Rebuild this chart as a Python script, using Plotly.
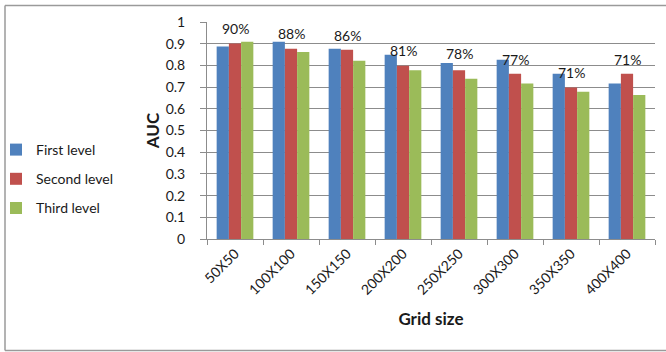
import plotly.graph_objects as go

# AUC per grid size for three levels
grid_sizes = ["50X50", "100X100", "150X150", "200X200",
              "250X250", "300X300", "350X350", "400X400"]
first_level = [0.887, 0.909, 0.877, 0.849, 0.811, 0.826, 0.761, 0.717]
second_level = [0.901, 0.877, 0.872, 0.798, 0.778, 0.761, 0.698, 0.761]
third_level = [0.909, 0.862, 0.821, 0.778, 0.738, 0.717, 0.678, 0.664]

# vertical placement (in AUC units) of the mean-value labels
label_y = [0.968, 0.949, 0.940, 0.868, 0.854, 0.826, 0.769, 0.826]

W, H = 666, 352
L, R, T, B = 207, 11, 22, 113
FONT = "Lato"
TXT = "#1a1a1a"
GRID = "#8c8c8c"
FRAME = "#9a9a9a"

series = [
    ("First level", first_level, "#4F81BD"),
    ("Second level", second_level, "#C0504D"),
    ("Third level", third_level, "#9BBB59"),
]

fig = go.Figure()
for i, (name, vals, col) in enumerate(series):
    fig.add_trace(go.Bar(
        x=grid_sizes, y=vals, name=name, marker_color=col,
        marker_line_width=0, legendgroup=str(i),
    ))

# mean AUC of the three levels above each group
for g, cat in enumerate(grid_sizes):
    mean = (first_level[g] + second_level[g] + third_level[g]) / 3
    fig.add_annotation(
        x=cat, y=label_y[g], text=f"{round(mean * 100)}%",
        showarrow=False, font=dict(family=FONT, size=14, color=TXT),
        xref="x", yref="y",
    )

pw, ph = W - L - R, H - T - B


def px_x(p):
    return (p - L) / pw


def px_y(p):
    return (H - B - p) / ph


# chart frame: left, top and bottom edges
fx0, fx1 = px_x(5), px_x(W + 5)
fy0, fy1 = px_y(350.5), px_y(5.5)
for x0, y0, x1, y1 in [(fx0, fy0, fx0, fy1), (fx0, fy1, fx1, fy1),
                       (fx0, fy0, fx1, fy0)]:
    fig.add_shape(type="line", xref="paper", yref="paper",
                  x0=x0, y0=y0, x1=x1, y1=y1,
                  line=dict(color=FRAME, width=1.5), layer="below")

fig.update_layout(
    width=W, height=H,
    margin=dict(l=L, r=R, t=T, b=B, pad=0, autoexpand=False),
    paper_bgcolor="white", plot_bgcolor="white",
    barmode="group", bargap=0.345, bargroupgap=0,
    font=dict(family=FONT, size=14, color=TXT),
    showlegend=True,
    legend=dict(
        x=px_x(-4), y=px_y(134), xanchor="left", yanchor="top",
        font=dict(family=FONT, size=14, color=TXT),
        tracegroupgap=8, itemwidth=30, bgcolor="rgba(0,0,0,0)",
    ),
    xaxis=dict(
        showline=True, linecolor=GRID, linewidth=1,
        ticks="outside", ticklen=5, tickcolor=GRID, tickson="boundaries",
        tickangle=-45, tickfont=dict(family=FONT, size=14, color=TXT),
        title=dict(text="<b>Grid size</b>", standoff=16,
                   font=dict(family=FONT, size=17, color=TXT)),
        showgrid=False,
    ),
    yaxis=dict(
        range=[0, 1], dtick=0.1, tickformat="~g",
        showline=True, linecolor=GRID, linewidth=1,
        ticks="outside", ticklen=6, tickcolor=GRID,
        ticklabelstandoff=12,
        tickfont=dict(family=FONT, size=14, color=TXT),
        showgrid=True, gridcolor=GRID, gridwidth=1,
        zeroline=False,
        title=dict(text="<b>AUC</b>", standoff=1,
                   font=dict(family=FONT, size=17, color=TXT)),
    ),
)

fig.write_html("out.html")
